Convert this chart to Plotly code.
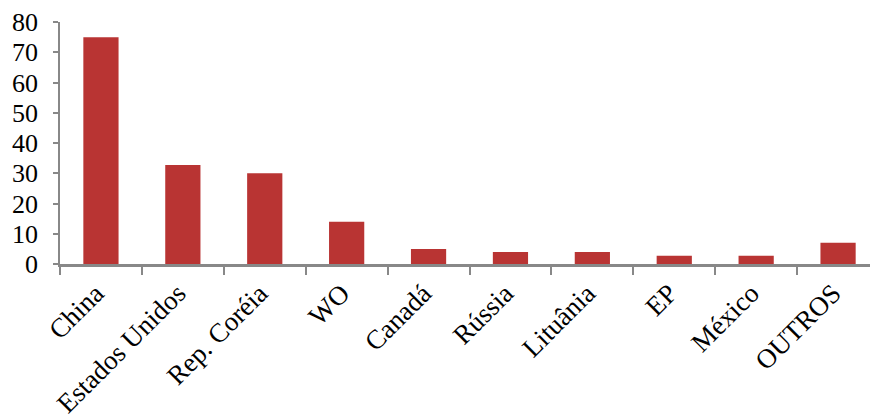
import plotly.graph_objects as go

categories = ["China", "Estados Unidos", "Rep. Coréia", "WO", "Canadá",
              "Rússia", "Lituânia", "EP", "México", "OUTROS"]
values = [75, 32.7, 30, 14, 5, 4, 4, 2.7, 2.7, 7]

fam = "Liberation Serif, Times New Roman, serif"
fig = go.Figure(go.Bar(
    x=categories, y=values,
    marker=dict(color="#b93433", line=dict(width=0)),
))

fig.update_layout(
    width=870, height=418,
    margin=dict(l=60, r=0, t=22, b=154),
    paper_bgcolor="white", plot_bgcolor="white",
    bargap=0.57, showlegend=False,
    font=dict(family=fam, size=26, color="#000"),
)
fig.update_xaxes(
    range=[-0.5, 9.39], tickangle=-45, tickson="boundaries",
    ticks="outside", ticklen=8, tickcolor="#888", tickwidth=1.5,
    showline=True, linecolor="#888", linewidth=2.5, showgrid=False,
    automargin=False, ticklabelshift=-5,
    tickfont=dict(family=fam, size=27, color="#000"),
)
fig.update_yaxes(
    range=[0, 80], dtick=10, ticks="outside", ticklen=5, tickcolor="#888",
    tickwidth=1.5, showline=True, linecolor="#888", linewidth=1.5,
    showgrid=False, zeroline=False, ticklabelstandoff=10, automargin=False,
    tickfont=dict(family=fam, size=26, color="#000"),
)
fig.write_html("out.html")
